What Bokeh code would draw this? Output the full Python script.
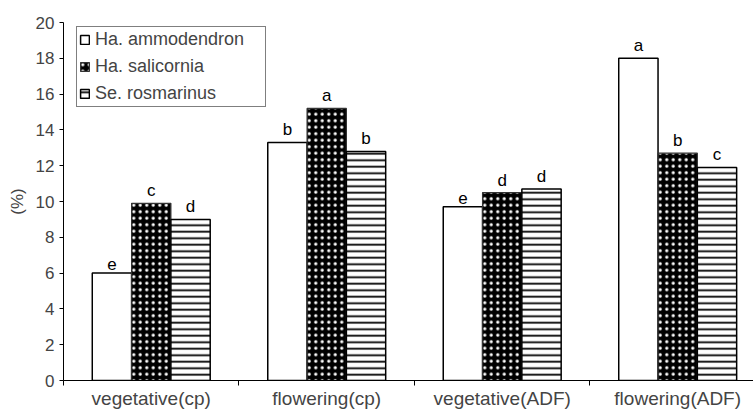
from bokeh.plotting import figure
from bokeh.models import Range1d, FixedTicker, Legend, LegendItem, ColumnDataSource
from bokeh.core.properties import value
from bokeh.embed import file_html
from bokeh.resources import INLINE

# ---- data ----
stages = ["vegetative(cp)", "flowering(cp)", "vegetative(ADF)", "flowering(ADF)"]
species = ["Ha. ammodendron", "Ha. salicornia", "Se. rosmarinus"]
ammodendron = [6.0, 13.3, 9.7, 18.0]
salicornia = [9.9, 15.2, 10.5, 12.7]
rosmarinus = [9.0, 12.8, 10.7, 11.9]
letters_ammodendron = ["e", "b", "e", "a"]
letters_salicornia = ["c", "a", "d", "b"]
letters_rosmarinus = ["d", "b", "d", "c"]
y_ticks = [0, 2, 4, 6, 8, 10, 12, 14, 16, 18, 20]
y_label = "(%)"

FONT = "Liberation Sans"
bar_w = 0.224
centers = [i + 0.5 for i in range(len(stages))]

p = figure(width=753, height=411, output_backend="svg", toolbar_location=None,
           x_range=Range1d(0, 3.932), y_range=Range1d(0, 20),
           min_border_left=63, min_border_top=22, min_border_right=0, min_border_bottom=30)
p.outline_line_color = None
p.xgrid.visible = False
p.ygrid.visible = False
p.background_fill_color = "white"

series = [
    (ammodendron, letters_ammodendron, -bar_w,
     dict(fill_color="white", line_color="black", line_width=1.5)),
    (salicornia, letters_salicornia, 0.0,
     dict(fill_color="black", line_color="#333333", line_width=1.2,
          hatch_pattern="dot", hatch_color="white", hatch_scale=6.5, hatch_weight=0.5)),
    (rosmarinus, letters_rosmarinus, bar_w,
     dict(fill_color="white", line_color="black", line_width=1.5,
          hatch_pattern="horizontal_line", hatch_color="black", hatch_scale=6.5, hatch_weight=1.8)),
]

items = []
for (vals, lets, off, style), name in zip(series, species):
    src = ColumnDataSource(dict(x=[c + off for c in centers], top=vals, lab=lets))
    r = p.vbar(x="x", top="top", bottom=0, width=bar_w, source=src, **style)
    p.text(x="x", y="top", text="lab", source=src, text_align="center",
           text_baseline="bottom", y_offset=-3, text_font=value(FONT),
           text_font_size="17px", text_color="black")
    items.append(LegendItem(label=name, renderers=[r]))

legend = Legend(items=items, location=(13, 273),
                border_line_color="black", border_line_width=1,
                background_fill_color="white", background_fill_alpha=1,
                glyph_width=11, glyph_height=11, label_standoff=5,
                label_height=18, spacing=6, padding=2, label_width=168,
                label_text_font=FONT, label_text_font_size="18px")
p.add_layout(legend)

# y axis
ya = p.yaxis[0]
ya.ticker = FixedTicker(ticks=y_ticks)
ya.axis_label = y_label
ya.axis_label_text_font = FONT
ya.axis_label_text_font_size = "17px"
ya.axis_label_text_font_style = "normal"
ya.axis_label_standoff = 6
ya.major_label_text_font = FONT
ya.major_label_text_font_size = "17px"
ya.major_label_standoff = 5
ya.major_tick_out = 4
ya.major_tick_in = 0
ya.minor_tick_out = 0
ya.minor_tick_in = 0
ya.axis_line_color = "black"
ya.major_tick_line_color = "black"

# x axis
xa = p.xaxis[0]
xa.ticker = FixedTicker(ticks=centers, minor_ticks=[0, 1, 2, 3])
xa.major_label_overrides = {c: s for c, s in zip(centers, stages)}
xa.major_label_text_font = FONT
xa.major_label_text_font_size = "19px"
xa.major_label_standoff = 2
xa.major_tick_out = 0
xa.major_tick_in = 0
xa.minor_tick_out = 5
xa.minor_tick_in = 0
xa.minor_tick_line_color = "black"
xa.axis_line_color = "black"

open("out.html", "w").write(file_html(p, INLINE))
